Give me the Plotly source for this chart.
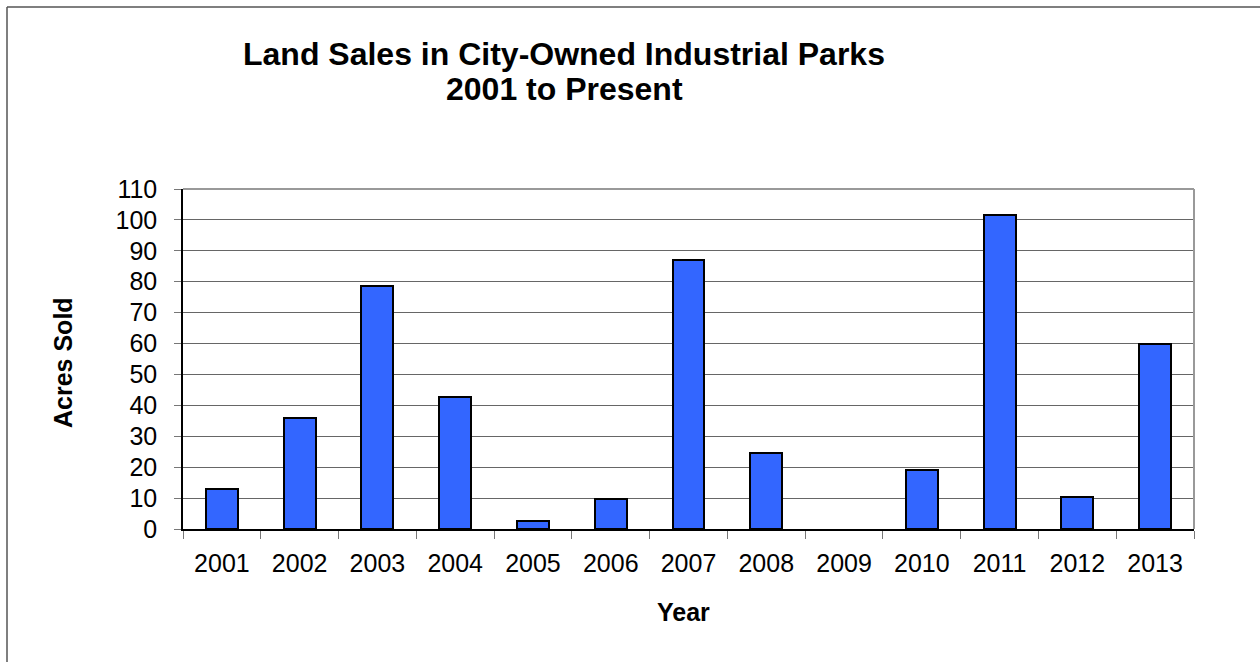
import plotly.graph_objects as go

years = ["2001", "2002", "2003", "2004", "2005", "2006", "2007",
         "2008", "2009", "2010", "2011", "2012", "2013"]
acres = [12.8, 35.9, 78.5, 42.7, 2.6, 9.6, 87.0, 24.6, 0, 19.1, 101.6, 10.3, 60.0]

title_line1 = "Land Sales in City-Owned Industrial Parks"
title_line2 = "2001 to Present"
y_title = "Acres Sold"
x_title = "Year"

W, H = 1260, 662
L, R, T, B = 183, 66, 189, 133
pw, ph = W - L - R, H - T - B

def px_x(x):
    return (x - L) / pw

def px_y(y):
    return 1 - (y - T) / ph

FONT = "Liberation Sans, Arial, sans-serif"

outline_w = [2 if v > 0 else 0 for v in acres]

fig = go.Figure()
fig.add_trace(go.Bar(
    x=years, y=acres, width=0.41,
    marker=dict(color="#3366FF", line=dict(color="black", width=outline_w)),
))

fig.update_layout(
    width=W, height=H,
    margin=dict(l=L, r=R, t=T, b=B, pad=0),
    paper_bgcolor="white", plot_bgcolor="white",
    font=dict(family=FONT, color="black", size=25),
    showlegend=False,
    bargap=0,
)
fig.update_xaxes(
    type="category", tickson="boundaries", ticks="outside", ticklen=8,
    tickcolor="#777777", tickwidth=1,
    showline=True, linecolor="black", linewidth=1.5,
    showgrid=False, tickfont=dict(size=25, family=FONT),
    ticklabelstandoff=11,
)
fig.update_yaxes(
    range=[0, 110], dtick=10, ticks="outside", ticklen=7,
    tickcolor="#777777", tickwidth=1,
    showline=True, linecolor="black", linewidth=1.5,
    showgrid=True, gridcolor="#666666", gridwidth=1,
    zeroline=False, tickfont=dict(size=25, family=FONT),
    ticklabelstandoff=12,
)

# plot-area frame: top and right edges in grey
fig.add_shape(type="line", xref="paper", yref="paper", x0=0, x1=1, y0=1, y1=1,
              line=dict(color="#999999", width=2), layer="above")
fig.add_shape(type="line", xref="paper", yref="paper", x0=1, x1=1, y0=0, y1=1,
              line=dict(color="#999999", width=2), layer="above")

# outer chart border (left and top visible)
fig.add_shape(type="line", xref="paper", yref="paper",
              x0=px_x(7), x1=px_x(1275), y0=px_y(7), y1=px_y(7),
              line=dict(color="#555555", width=1.5), layer="above")
fig.add_shape(type="line", xref="paper", yref="paper",
              x0=px_x(7), x1=px_x(7), y0=px_y(7), y1=px_y(680),
              line=dict(color="#555555", width=1.5), layer="above")

fig.add_annotation(text="<b>%s</b>" % title_line1, xref="paper", yref="paper",
                   x=px_x(564), y=px_y(54), xanchor="center", yanchor="middle",
                   showarrow=False, font=dict(size=32, family=FONT))
fig.add_annotation(text="<b>%s</b>" % title_line2, xref="paper", yref="paper",
                   x=px_x(564), y=px_y(89), xanchor="center", yanchor="middle",
                   showarrow=False, font=dict(size=32, family=FONT))
fig.add_annotation(text="<b>%s</b>" % y_title, xref="paper", yref="paper",
                   x=px_x(63), y=px_y(363), xanchor="center", yanchor="middle",
                   textangle=-90, showarrow=False, font=dict(size=25, family=FONT))
fig.add_annotation(text="<b>%s</b>" % x_title, xref="paper", yref="paper",
                   x=px_x(683), y=px_y(612), xanchor="center", yanchor="middle",
                   showarrow=False, font=dict(size=25, family=FONT))

fig.write_html("out.html")
